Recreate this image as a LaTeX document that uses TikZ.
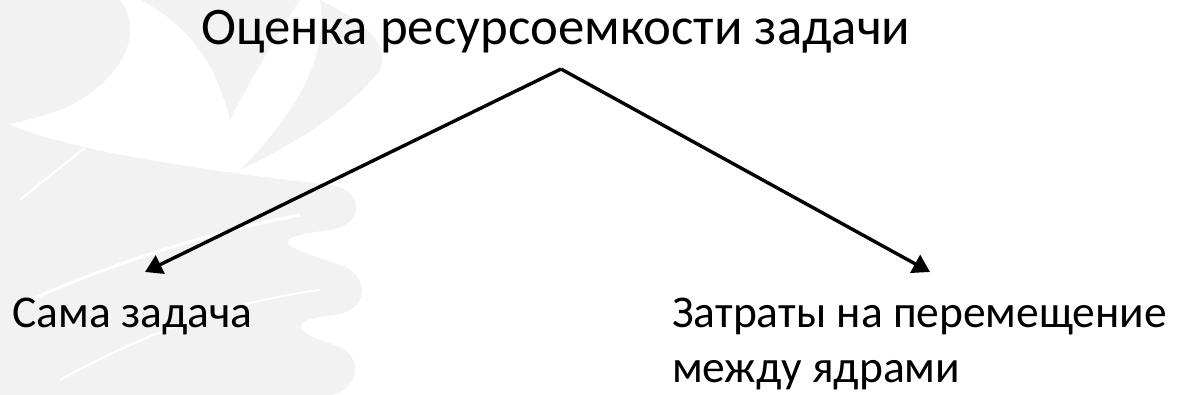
\documentclass[tikz,border=0pt]{standalone}
\usepackage{fontspec}
\setmainfont{Carlito}
\usetikzlibrary{arrows.meta}
\definecolor{mark}{HTML}{F2F2F2}
\tikzset{
  lbl/.style={inner sep=0pt, font=\fontsize{45.5}{55}\selectfont, align=left},
  ttl/.style={inner sep=0pt, font=\fontsize{52.8}{60}\selectfont},
  link/.style={line width=3.4pt, -{Triangle[width=20pt,length=17pt]}},
  petal/.style={fill=mark, draw=none}
}
\begin{document}
\begin{tikzpicture}[x=1pt,y=-1pt]
\useasboundingbox (0,0) rectangle (1180,395);
\fill[white] (0,0) rectangle (1180,395);
% faint feather ornament behind the left part
\begin{scope}
\fill[petal] (0,395) -- (0,120) .. controls (60,150) and (200,170) .. (330,185)
  .. controls (365,190) and (365,225) .. (330,230)
  .. controls (250,240) and (300,250) .. (340,265)
  .. controls (370,275) and (370,310) .. (335,315)
  .. controls (280,320) and (300,335) .. (335,345)
  .. controls (365,355) and (360,390) .. (330,395) -- cycle;
\fill[petal] (0,0) -- (120,0) .. controls (150,40) and (110,90) .. (60,110)
  .. controls (30,120) and (10,125) .. (0,125) -- cycle;
\fill[petal] (140,0) .. controls (200,30) and (220,80) .. (230,120)
  .. controls (250,80) and (280,30) .. (300,0) -- cycle;
\fill[petal] (320,0) .. controls (360,20) and (390,40) .. (380,70)
  .. controls (340,120) and (280,150) .. (240,170)
  .. controls (290,120) and (330,60) .. (320,0) -- cycle;
\draw[white, line width=3pt] (30,300) .. controls (120,260) and (220,230) .. (300,215);
\draw[white, line width=2pt] (20,200) .. controls (80,150) and (140,110) .. (170,60);
\draw[white, line width=2pt] (60,380) .. controls (150,330) and (240,300) .. (320,290);
\end{scope}

\node[ttl, anchor=base] (top) at (556,45) {Оценка ресурсоемкости задачи};
\node[lbl, anchor=base west] (left) at (12,327) {Сама задача};
\node[lbl, anchor=base west] (right) at (672,382) {Затраты на перемещение\\между ядрами};

\coordinate (apex) at (561,69);
\coordinate (ltip) at (145,272);
\coordinate (rtip) at (930,272);
\draw[link] (apex) -- (ltip);
\draw[link] (apex) -- (rtip);
\end{tikzpicture}
\end{document}
